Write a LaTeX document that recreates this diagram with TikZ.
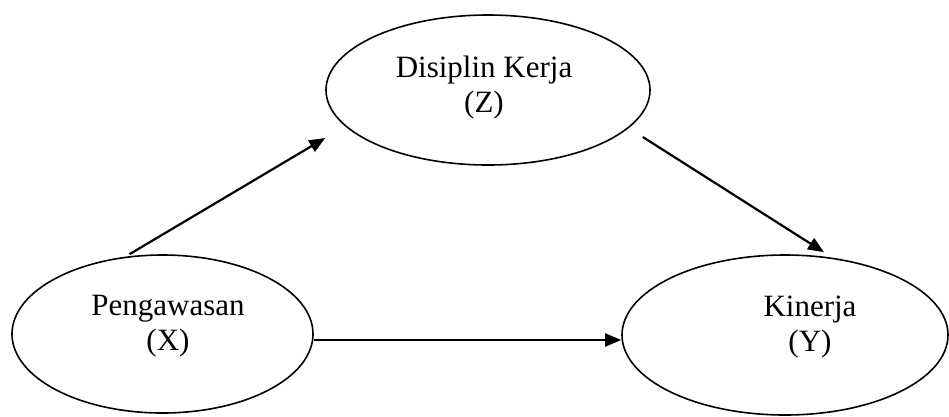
\documentclass[tikz,border=0pt]{standalone}
\usepackage{fontspec}
\setmainfont{Liberation Serif}
\usetikzlibrary{shapes.geometric,arrows.meta}
\tikzset{
  varell/.style={draw=black, line width=1.6pt, ellipse, inner sep=0pt},
  lbl/.style={align=center, font=\fontsize{31}{35}\selectfont, inner sep=0pt, anchor=base},
  arr/.style={draw=black, line width=2.2pt, -{Triangle[length=16pt,width=13pt]}}
}
\begin{document}
\begin{tikzpicture}[x=1pt,y=-1pt]
\useasboundingbox (0,0) rectangle (949,416);
\node[varell, minimum width=324pt, minimum height=150pt] (Z) at (488,90) {};
\node[varell, minimum width=301pt, minimum height=158pt] (X) at (162.5,334) {};
\node[varell, minimum width=326pt, minimum height=160pt] (Y) at (785,335) {};
\node[lbl] (Zt) at (484,112) {Disiplin Kerja\\(Z)};
\node[lbl] (Xt) at (168,350) {Pengawasan\\(X)};
\node[lbl] (Yt) at (810,351) {Kinerja\\(Y)};
\draw[arr] ([xshift=-33pt]X.north) -- ([yshift=-48pt]Z.west);
\draw[arr] ([xshift=-8pt,yshift=-47pt]Z.east) -- ([xshift=39pt,yshift=2pt]Y.north);
\draw[arr] ([yshift=-6pt]X.east) -- ([yshift=-5pt]Y.west);
\end{tikzpicture}
\end{document}
